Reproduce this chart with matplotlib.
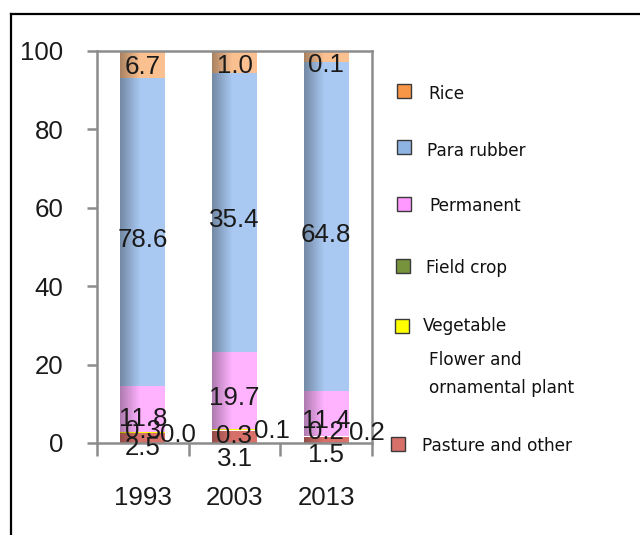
import numpy as np
import matplotlib
matplotlib.use("Agg")
import matplotlib.pyplot as plt
from matplotlib.patches import Rectangle
from matplotlib.lines import Line2D

# ---------------- data ----------------
years = ['1993', '2003', '2013']
series_names = ['Pasture and other', 'Flower and\nornamental plant', 'Vegetable',
                'Field crop', 'Permanent', 'Para rubber', 'Rice']
pasture = [2.5, 3.1, 1.5]
flower = [0.0, 0.1, 0.2]
vegetable = [0.3, 0.3, 0.2]
field_crop = [0.0, 0.0, 0.0]
permanent = [11.8, 19.7, 11.4]
para_rubber = [78.6, 71.1, 83.8]      # drawn heights
rice = [6.7, 5.7, 2.9]                # drawn heights
rubber_labels = ['78.6', '35.4', '64.8']   # printed labels
rice_labels = ['6.7', '1.0', '0.1']        # printed labels

# ---------------- style ----------------
W, H = 640, 535
NUMFONT, NUMSIZE = 'Liberation Sans', 18.6
bar_colors = ['#D8706A', 'none', '#FFFF00', '#77933C', '#FFB3FF', '#A9C9F2', '#FAC090']
legend_colors = ['#D8706A', None, '#FFFF00', '#77933C', '#FF99FF', '#8DB4E2', '#F79646']
grey = '#8C8C8C'

fig = plt.figure(figsize=(W / 100, H / 100), dpi=100)
ax = fig.add_axes([97 / W, 1 - 443 / H, 275 / W, 392 / H])

x = np.arange(len(years))
values = [pasture, flower, vegetable, field_crop, permanent, para_rubber, rice]
bottom = np.zeros(len(years))
containers = []
for vals, col in zip(values, bar_colors):
    bc = ax.bar(x, vals, width=0.49, bottom=bottom, color=col, edgecolor='none',
                linewidth=0, zorder=2)
    containers.append((bc, col))
    bottom = bottom + np.array(vals, float)

# cylinder-like horizontal shading (dark left edge)
t = np.linspace(0, 1, 80)
dark = np.interp(t, [0, 0.45, 1], [0.32, 0.0, 0.0])
shade = np.zeros((1, 80, 4))
shade[..., 3] = dark
for bc, col in containers:
    if col == 'none':
        continue
    for rect in bc:
        if rect.get_height() <= 0:
            continue
        im = ax.imshow(shade, extent=[rect.get_x(), rect.get_x() + rect.get_width(),
                                      rect.get_y(), rect.get_y() + rect.get_height()],
                       aspect='auto', interpolation='bilinear', zorder=2.5)
        im.set_clip_path(rect)

ax.set_xlim(-0.5, 2.5)
ax.set_ylim(0, 100)

# ---------------- data labels ----------------
lab_kw = dict(fontsize=NUMSIZE, family=NUMFONT, ha='center', va='center_baseline',
              clip_on=False, zorder=5, color='#1a1a1a')
label_sets = [
    ([f'{v:.1f}' for v in pasture], [-0.7, -3.5, -2.5], [0, 0, 0]),
    ([f'{v:.1f}' for v in flower], [2.6, 3.6, 3.1], [0.38, 0.41, 0.44]),
    ([f'{v:.1f}' for v in vegetable], [3.6, 2.4, 3.4], [0, 0, 0]),
    ([f'{v:.1f}' for v in permanent], [6.7, 12.1, 6.2], [0, 0, 0]),
    (rubber_labels, [52.3, 57.4, 53.6], [0, 0, 0]),
    (rice_labels, [96.5, 96.9, 97.1], [0, 0, 0]),
]
for texts, ys, dxs in label_sets:
    for xi, s, yy, dx in zip(x, texts, ys, dxs):
        ax.text(xi + dx, yy, s, **lab_kw)

# ---------------- axes styling ----------------
for sp in ax.spines.values():
    sp.set_color(grey)
    sp.set_linewidth(1.8)
ax.set_yticks(np.arange(0, 101, 20))
ax.tick_params(axis='y', direction='out', length=7.2, width=1.8, color=grey,
               pad=17, labelsize=NUMSIZE)
for lab in ax.get_yticklabels():
    lab.set_family(NUMFONT)
    lab.set_color('#1a1a1a')
ax.set_xticks([-0.5, 0.5, 1.5, 2.5])
ax.set_xticklabels([])
ax.tick_params(axis='x', which='major', direction='out', length=9.4, width=1.8, color=grey)
ax.set_xticks(x, minor=True)
ax.set_xticklabels(years, minor=True)
ax.tick_params(axis='x', which='minor', length=0, pad=31, labelsize=NUMSIZE)
for lab in ax.get_xticklabels(minor=True):
    lab.set_family(NUMFONT)
    lab.set_color('#1a1a1a')

# ---------------- legend (manual layout) ----------------
legend_layout = {  # name: (marker center px, text x px, text y px)
    'Rice': ((404, 91), 428, 94),
    'Para rubber': ((404, 147), 427, 151),
    'Permanent': ((404, 204), 429, 206),
    'Field crop': ((403, 266), 426, 268),
    'Vegetable': ((402, 326), 423, 326),
    'Flower and\nornamental plant': (None, 429, 374),
    'Pasture and other': ((398, 444), 422, 446),
}
for name, lc in zip(series_names, legend_colors):
    mk, tx, ty = legend_layout[name]
    if mk is not None and lc is not None:
        s = 14
        fig.add_artist(Rectangle(((mk[0] - s / 2) / W, 1 - (mk[1] + s / 2) / H), s / W, s / H,
                                 transform=fig.transFigure, facecolor=lc,
                                 edgecolor='#3a3a3a', linewidth=1.0))
    fig.text(tx / W, 1 - ty / H, name, fontsize=12.2, family='DejaVu Sans',
             ha='left', va='center', color='#111111', linespacing=1.75)

# ---------------- outer frame (left + top) ----------------
fig.add_artist(Line2D([11 / W, 11 / W], [0, 1 - 14 / H], transform=fig.transFigure,
                      color='black', linewidth=1.6))
fig.add_artist(Line2D([11 / W, 1], [1 - 14 / H, 1 - 14 / H], transform=fig.transFigure,
                      color='black', linewidth=1.6))

fig.savefig('out.png', dpi=100)
